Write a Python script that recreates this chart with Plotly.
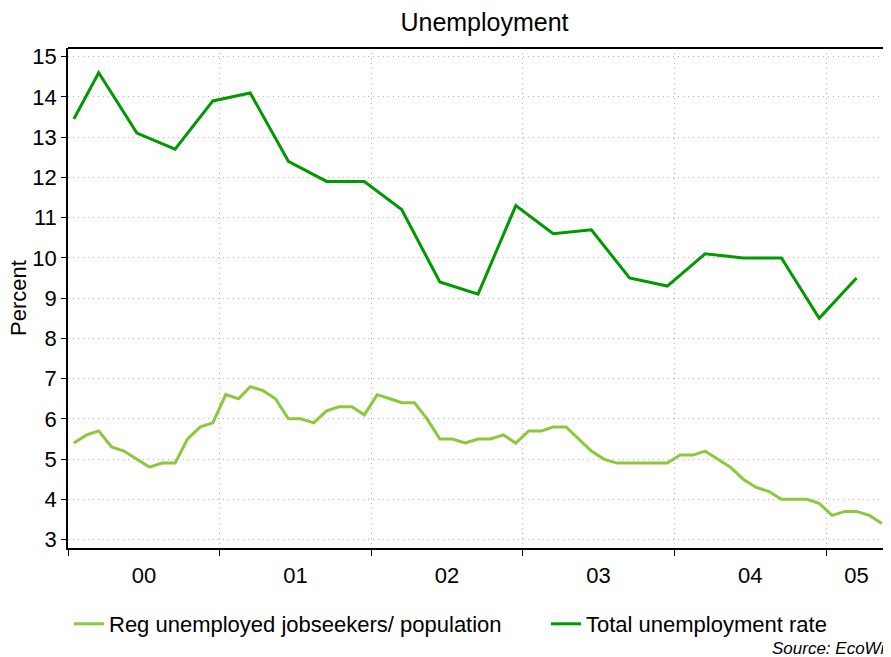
import pandas as pd
import plotly.graph_objects as go

# Monthly series: registered unemployed jobseekers / population (%), Jan 2000 - May 2005 (mid-month)
reg_months = pd.date_range("2000-01-01", periods=65, freq="MS") + pd.Timedelta(days=14)
reg_values = [
    5.4, 5.6, 5.7, 5.3, 5.2, 5.0, 4.8, 4.9, 4.9, 5.5, 5.8, 5.9,   # 2000
    6.6, 6.5, 6.8, 6.7, 6.5, 6.0, 6.0, 5.9, 6.2, 6.3, 6.3, 6.1,   # 2001
    6.6, 6.5, 6.4, 6.4, 6.0, 5.5, 5.5, 5.4, 5.5, 5.5, 5.6, 5.4,   # 2002
    5.7, 5.7, 5.8, 5.8, 5.5, 5.2, 5.0, 4.9, 4.9, 4.9, 4.9, 4.9,   # 2003
    5.1, 5.1, 5.2, 5.0, 4.8, 4.5, 4.3, 4.2, 4.0, 4.0, 4.0, 3.9,   # 2004
    3.6, 3.7, 3.7, 3.6, 3.4,                                       # 2005
]

# Total unemployment rate (%)
total_dates = [
    "2000-01-15", "2000-03-15", "2000-06-15", "2000-09-15", "2000-12-15",
    "2001-03-15", "2001-06-15", "2001-09-15", "2001-12-15",
    "2002-03-15", "2002-06-15", "2002-09-15", "2002-12-15",
    "2003-03-15", "2003-06-15", "2003-09-15", "2003-12-15",
    "2004-03-15", "2004-06-15", "2004-09-15", "2004-12-15",
    "2005-03-15",
]
total_values = [
    13.45, 14.6, 13.1, 12.7, 13.9,
    14.1, 12.4, 11.9, 11.9,
    11.2, 9.4, 9.1, 11.3,
    10.6, 10.7, 9.5, 9.3,
    10.1, 10.0, 10.0, 8.5,
    9.5,
]

# Axis ticks
year_bounds = ["2000-01-01", "2001-01-01", "2002-01-01", "2003-01-01", "2004-01-01", "2005-01-01"]
year_label_pos = ["2000-07-02", "2001-07-02", "2002-07-02", "2003-07-02", "2004-07-02", "2005-03-15"]
year_labels = ["00", "01", "02", "03", "04", "05"]
y_ticks = list(range(3, 16))

LIGHT = "#8cc83c"
DARK = "#009a00"
FONT = "Liberation Sans, Arial, sans-serif"

W, H = 883, 649  # page body has an 8px margin inside the 891x657 window

fig = go.Figure()
fig.add_trace(go.Scatter(
    x=reg_months, y=reg_values, mode="lines",
    name="Reg unemployed jobseekers/ population",
    line=dict(color=LIGHT, width=3),
    legendwidth=432,
))
fig.add_trace(go.Scatter(
    x=total_dates, y=total_values, mode="lines",
    name="Total unemployment rate",
    line=dict(color=DARK, width=3),
))

fig.update_layout(
    width=W, height=H,
    margin=dict(l=60, r=0, t=40, b=109),
    plot_bgcolor="white", paper_bgcolor="white",
    font=dict(family=FONT, size=22, color="black"),
    title=dict(text="Unemployment", x=476.5 / W, xref="container", xanchor="center",
               y=1 - 14 / H, yref="container", yanchor="middle",
               font=dict(size=25, family=FONT, color="black")),
    showlegend=True,
    legend=dict(orientation="h", x=0.0012, xanchor="left", y=-0.152, yanchor="middle",
                font=dict(size=22, family=FONT), bgcolor="rgba(0,0,0,0)"),
    xaxis=dict(
        type="date",
        range=["2000-01-01", "2005-06-06"],
        tickmode="array", tickvals=year_label_pos, ticktext=year_labels,
        ticks="", showgrid=False,
        ticklabelstandoff=7,
        showline=True, linecolor="black", linewidth=1.5,
        tickfont=dict(size=22),
        minor=dict(tickmode="array", tickvals=year_bounds, ticks="outside", ticklen=6,
                   tickcolor="black", tickwidth=1.2, showgrid=True,
                   gridcolor="#b5b5b5", griddash="1px,4px", gridwidth=1),
        zeroline=False,
    ),
    yaxis=dict(
        range=[2.79, 15.216],
        tickmode="array", tickvals=y_ticks,
        ticks="outside", ticklen=5, tickcolor="black", tickwidth=1.2,
        showline=True, linecolor="black", linewidth=1.5,
        showgrid=True, gridcolor="#b5b5b5", griddash="1px,4px", gridwidth=1,
        tickfont=dict(size=22),
        zeroline=False,
    ),
)

# top frame line
fig.add_shape(type="line", xref="paper", yref="paper", x0=0, x1=1, y0=1, y1=1,
              line=dict(color="black", width=2))

# y-axis title
fig.add_annotation(text="Percent", xref="paper", yref="paper",
                   x=(18 - 68) / 823, y=0.5, xanchor="center", yanchor="middle",
                   textangle=-90, showarrow=False, font=dict(size=22, family=FONT))

# source
fig.add_annotation(text="<i>Source: EcoWin</i>", xref="paper", yref="paper",
                   x=(770 - 68) / 823, y=(548 - 648) / 500, xanchor="left", yanchor="middle",
                   showarrow=False, font=dict(size=17, family=FONT))

fig.write_html("out.html")
